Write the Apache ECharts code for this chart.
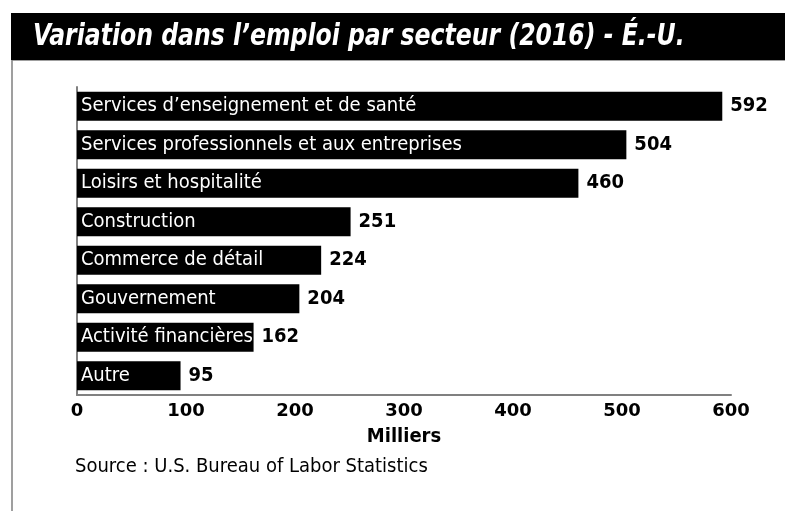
<!DOCTYPE html>
<html>
<head>
<meta charset="utf-8">
<script src="https://cdn.jsdelivr.net/npm/echarts@6/dist/echarts.min.js"></script>
<style>
  html, body { margin: 0; padding: 0; background: #fff; }
  #chart { width: 785px; height: 511px; }
</style>
</head>
<body>
<div id="chart"></div>
<script>
// secteurs et variation (milliers d'emplois)
var sectors = [
  'Services d\u2019enseignement et de santé',
  'Services professionnels et aux entreprises',
  'Loisirs et hospitalité',
  'Construction',
  'Commerce de détail',
  'Gouvernement',
  'Activité financières',
  'Autre'
]
var values = [592, 504, 460, 251, 224, 204, 162, 95]
var xTicks = [0, 100, 200, 300, 400, 500, 600]

var narrow = "'Liberation Sans Narrow', 'DejaVu Sans Condensed', sans-serif"

var chart = echarts.init(document.getElementById('chart'))
chart.setOption({
  backgroundColor: '#fff',
  animation: false,
  grid: { left: 77, right: 54, top: 87, bottom: 116, containLabel: false },
  xAxis: {
    type: 'value',
    min: xTicks[0],
    max: xTicks[xTicks.length - 1],
    interval: 100,
    name: 'Milliers',
    nameLocation: 'middle',
    nameGap: 32,
    nameTextStyle: { fontFamily: narrow, fontWeight: 'bold', fontSize: 20, color: '#000' },
    axisLine: { show: true, lineStyle: { color: '#808080', width: 2 } },
    axisTick: { show: false },
    splitLine: { show: false },
    axisLabel: { margin: 7, fontFamily: 'DejaVu Sans', fontWeight: 'bold', fontSize: 18, color: '#000' }
  },
  yAxis: {
    type: 'category',
    inverse: true,
    data: sectors,
    axisLine: { show: true, lineStyle: { color: '#808080', width: 2 } },
    axisTick: { show: false },
    axisLabel: { show: false }
  },
  series: [
    {
      type: 'bar',
      data: values,
      barWidth: '75%',
      itemStyle: { color: '#000' },
      label: {
        show: true,
        position: 'insideLeft',
        offset: [-1, 0],
        formatter: '{b}',
        color: '#fff',
        fontFamily: narrow,
        fontSize: 20
      },
      z: 3
    },
    {
      type: 'bar',
      data: values,
      barWidth: '75%',
      barGap: '-100%',
      itemStyle: { color: 'rgba(0,0,0,0)' },
      label: {
        show: true,
        position: 'right',
        distance: 8,
        color: '#000',
        fontFamily: narrow,
        fontWeight: 'bold',
        fontSize: 20
      },
      z: 2
    }
  ],
  graphic: [
    {
      type: 'rect',
      shape: { x: 12, y: 60, width: 800, height: 500 },
      style: { fill: 'none', stroke: '#808080', lineWidth: 1.5 },
      z: -1
    },
    {
      type: 'rect',
      shape: { x: 11, y: 13, width: 780, height: 47 },
      style: { fill: '#000' }
    },
    {
      type: 'text',
      x: 33,
      y: 21,
      scaleX: 0.845,
      style: {
        text: 'Variation dans l\u2019emploi par secteur (2016) - É.-U.',
        fill: '#fff',
        font: "italic bold 31px " + narrow
      }
    },
    {
      type: 'text',
      left: 75,
      top: 457,
      style: {
        text: 'Source : U.S. Bureau of Labor Statistics',
        fill: '#000',
        font: "20px " + narrow
      }
    }
  ]
})
</script>
</body>
</html>
